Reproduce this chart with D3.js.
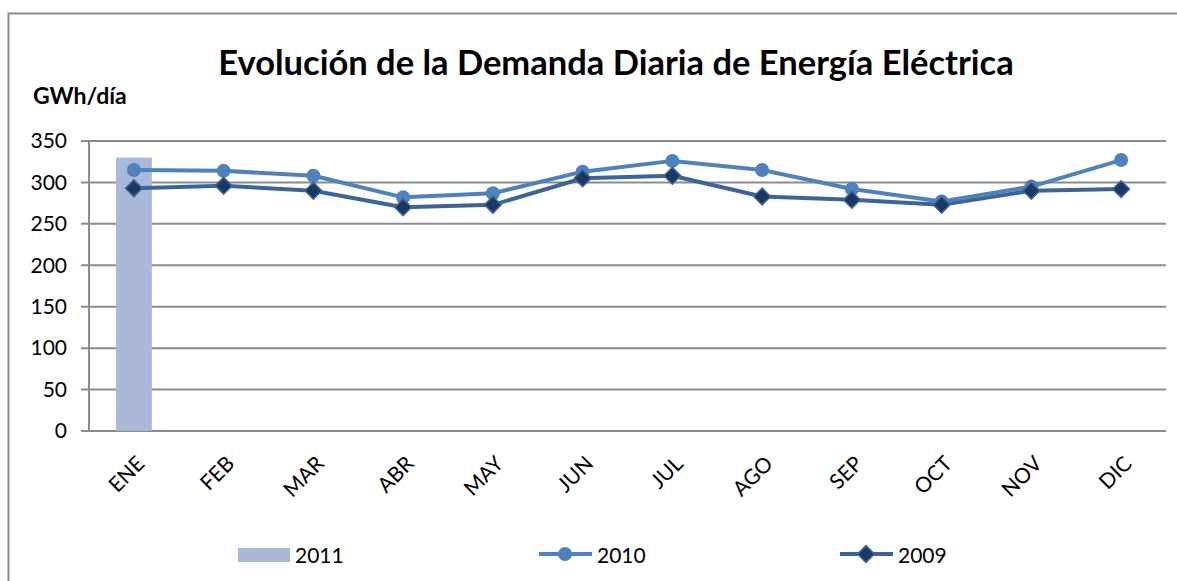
<!DOCTYPE html>
<html>
<head>
<meta charset="utf-8">
<script src="https://cdn.jsdelivr.net/npm/d3@7"></script>
<style>
  body { margin: 0; background: #fff; }
  svg { display: block; font-family: Lato, "Noto Sans", sans-serif; }
</style>
</head>
<body>
<svg width="1177" height="581"></svg>
<script>
// data
var months = ["ENE", "FEB", "MAR", "ABR", "MAY", "JUN", "JUL", "AGO", "SEP", "OCT", "NOV", "DIC"];
var values2011 = [330];
var values2010 = [315, 314, 308, 282, 287, 313, 326, 315, 292, 277, 295, 327];
var values2009 = [293, 296, 290, 270, 273, 305, 308, 283, 279, 273, 290, 292];
var yTicks = [0, 50, 100, 150, 200, 250, 300, 350];

var svg = d3.select("svg"),
    margin = {top: 141, right: 11, bottom: 150, left: 89},
    width = +svg.attr("width") - margin.left - margin.right,
    height = +svg.attr("height") - margin.top - margin.bottom;

// outer frame
svg.append("rect")
   .attr("x", 8.5).attr("y", 13.5)
   .attr("width", 1300).attr("height", 700)
   .attr("fill", "none").attr("stroke", "#8c8c8c").attr("stroke-width", 2);

var chart = svg.append("g").attr("transform", "translate(" + margin.left + "," + margin.top + ")");

var xScale = d3.scaleBand().domain(months).range([0, width]);
var yScale = d3.scaleLinear().domain([0, 350]).range([height, 0]);

// gridlines
chart.selectAll(".grid")
     .data(yTicks)
     .enter()
     .append("line")
     .attr("x1", -8).attr("x2", width)
     .attr("y1", function(d) { return yScale(d); })
     .attr("y2", function(d) { return yScale(d); })
     .attr("stroke", "#8c8c8c").attr("stroke-width", 2);

// y axis
var yAxis = chart.append("g")
     .call(d3.axisLeft(yScale).tickValues(yTicks).tickSize(0).tickPadding(22));
yAxis.select(".domain").remove();
yAxis.selectAll("text").attr("font-size", 21).attr("fill", "#000")
     .attr("font-family", "Lato, sans-serif");

chart.append("line")
     .attr("x1", 0).attr("x2", 0).attr("y1", 0).attr("y2", height)
     .attr("stroke", "#8c8c8c").attr("stroke-width", 2);

// x axis labels
var xAxis = chart.append("g")
     .attr("transform", "translate(0," + height + ")")
     .call(d3.axisBottom(xScale).tickSize(0).tickPadding(0));
xAxis.select(".domain").remove();
xAxis.selectAll("text")
     .attr("font-size", 21).attr("fill", "#000")
     .attr("font-family", "Lato, sans-serif")
     .attr("text-anchor", "end")
     .attr("dy", 0)
     .attr("transform", "translate(12,34) rotate(-45)");

// 2011 bar
chart.selectAll(".bar")
     .data(values2011)
     .enter()
     .append("rect")
     .attr("x", function(d, i) { return xScale(months[i]) + xScale.bandwidth() * 0.3; })
     .attr("width", xScale.bandwidth() * 0.4)
     .attr("y", function(d) { return yScale(d); })
     .attr("height", function(d) { return height - yScale(d); })
     .attr("fill", "#aab9d9");

var xc = function(d, i) { return xScale(months[i]) + xScale.bandwidth() / 2; };
var line = d3.line().x(xc).y(function(d) { return yScale(d); });

// 2009
chart.append("path").datum(values2009)
     .attr("d", line).attr("fill", "none")
     .attr("stroke", "#3b6597").attr("stroke-width", 4).attr("stroke-linejoin", "round");

// 2010
chart.append("path").datum(values2010)
     .attr("d", line).attr("fill", "none")
     .attr("stroke", "#4f81bd").attr("stroke-width", 4).attr("stroke-linejoin", "round");

chart.selectAll(".m2010")
     .data(values2010)
     .enter()
     .append("circle")
     .attr("cx", xc)
     .attr("cy", function(d) { return yScale(d); })
     .attr("r", 7)
     .attr("fill", "#4f81bd");

var diamond = d3.symbol().type(d3.symbolSquare).size(140);
chart.selectAll(".m2009")
     .data(values2009)
     .enter()
     .append("path")
     .attr("d", diamond)
     .attr("transform", function(d, i) { return "translate(" + xc(d, i) + "," + yScale(d) + ") rotate(45)"; })
     .attr("fill", "#1a3862")
     .attr("stroke", "#3b6597").attr("stroke-width", 1.5);

// title
svg.append("text")
   .attr("x", 616).attr("y", 75)
   .attr("text-anchor", "middle")
   .attr("font-size", 34.5).attr("font-weight", "bold")
   .text("Evolución de la Demanda Diaria de Energía Eléctrica");

svg.append("text")
   .attr("x", 33).attr("y", 104)
   .attr("font-size", 23).attr("font-weight", "bold")
   .text("GWh/día");

// legend
var leg = svg.append("g").attr("font-size", 21);
leg.append("rect").attr("x", 238).attr("y", 548).attr("width", 52).attr("height", 14).attr("fill", "#aab9d9");
leg.append("text").attr("x", 295).attr("y", 563).text("2011");

leg.append("line").attr("x1", 539).attr("x2", 592).attr("y1", 554).attr("y2", 554)
   .attr("stroke", "#4f81bd").attr("stroke-width", 4);
leg.append("circle").attr("cx", 565).attr("cy", 554).attr("r", 7).attr("fill", "#4f81bd");
leg.append("text").attr("x", 597).attr("y", 563).text("2010");

leg.append("line").attr("x1", 840).attr("x2", 893).attr("y1", 554).attr("y2", 554)
   .attr("stroke", "#3b6597").attr("stroke-width", 4);
leg.append("path").attr("d", diamond)
   .attr("transform", "translate(866,554) rotate(45)")
   .attr("fill", "#1a3862").attr("stroke", "#3b6597").attr("stroke-width", 1.5);
leg.append("text").attr("x", 898).attr("y", 563).text("2009");
</script>
</body>
</html>
